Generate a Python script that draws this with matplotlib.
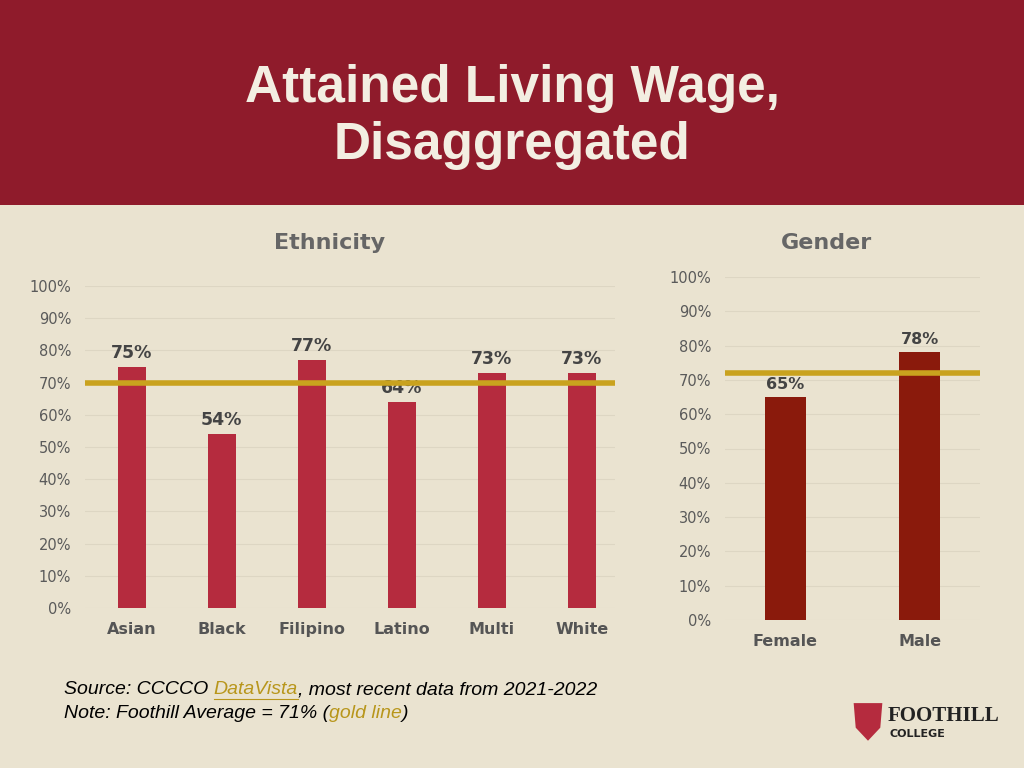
import matplotlib
matplotlib.use("Agg")
import matplotlib.pyplot as plt
from matplotlib.patches import Rectangle, Polygon
import numpy as np

eth_cats = ["Asian", "Black", "Filipino", "Latino", "Multi", "White"]
eth_vals = [75, 54, 77, 64, 73, 73]
gen_cats = ["Female", "Male"]
gen_vals = [65, 78]
avg_line_eth = 70
avg_line_gen = 72
yticks = [0, 10, 20, 30, 40, 50, 60, 70, 80, 90, 100]
ytick_labels = [f"{v}%" for v in yticks]

fig = plt.figure(figsize=(10.24, 7.68), dpi=100)
fig.patch.set_facecolor("#EAE3D0")
fig.patches.append(Rectangle((0, 1 - 205/768), 1, 205/768, transform=fig.transFigure,
                             facecolor="#8F1B2B", edgecolor="none", zorder=0))
fig.text(0.5, 0.885, "Attained Living Wage,", ha="center", va="center", color="#F3EEE2",
         fontsize=37, fontweight="bold", family="Liberation Sans")
fig.text(0.5, 0.81, "Disaggregated", ha="center", va="center", color="#F3EEE2",
         fontsize=37, fontweight="bold", family="Liberation Sans")

def panel(rect, cats, vals, color, avg, title, title_x, xlim, labsize):
    ax = fig.add_axes(rect)
    ax.set_facecolor("none")
    x = np.arange(len(cats))
    ax.bar(x, vals, width=0.31, color=color, zorder=2)
    for xi, v in zip(x, vals):
        ax.text(xi, v + 1.5, f"{v}%", ha="center", va="bottom", fontsize=labsize,
                fontweight="bold", color="#444444")
    ax.axhline(avg, color="#C9A21E", lw=4, zorder=3)
    ax.set_ylim(0, 100)
    ax.set_xlim(*xlim)
    ax.set_yticks(yticks)
    ax.set_yticklabels(ytick_labels, color="#5A5A5A", fontsize=10.5)
    ax.set_xticks(x)
    ax.set_xticklabels(cats, color="#555555", fontsize=11.5, fontweight="bold")
    ax.grid(axis="y", color="#DDD6C3", lw=0.8, zorder=0)
    for s in ax.spines.values():
        s.set_visible(False)
    ax.tick_params(length=0, pad=10)
    fig.text(title_x, 1 - 243/768, title, ha="center", va="center",
             fontsize=16, fontweight="bold", color="#666666")
    return ax

panel([85/1024, 1 - 608/768, 530/1024, 322/768], eth_cats, eth_vals, "#B52B3E",
      avg_line_eth, "Ethnicity", 330/1024, (-0.52, 5.37), 12.5)
panel([725/1024, 1 - 620/768, 255/1024, 343/768], gen_cats, gen_vals, "#8A1A0C",
      avg_line_gen, "Gender", 827/1024, (-0.45, 1.45), 11.5)

fs = 14
fam = "Liberation Sans"
y1, y2 = 1 - 690/768, 1 - 714/768
fig.canvas.draw()
r = fig.canvas.get_renderer()
def after(tt):
    bb = tt.get_window_extent(r)
    return bb.x1 / fig.bbox.width
t = fig.text(64/1024, y1, "Source: CCCCO ", fontsize=fs, style="italic", va="center", family=fam)
t2 = fig.text(after(t), y1, "DataVista", fontsize=fs, style="italic", va="center", color="#B8961B", family=fam)
bb = t2.get_window_extent(r)
fig.add_artist(plt.Line2D([bb.x0/1024, bb.x1/1024], [y1 - 0.012, y1 - 0.012], color="#B8961B", lw=0.8))
fig.text(after(t2), y1, ", most recent data from 2021-2022", fontsize=fs, style="italic", va="center", family=fam)
a = fig.text(64/1024, y2, "Note: Foothill Average = 71% (", fontsize=fs, style="italic", va="center", family=fam)
b = fig.text(after(a), y2, "gold line", fontsize=fs, style="italic", va="center", color="#B8961B", family=fam)
fig.text(after(b), y2, ")", fontsize=fs, style="italic", va="center", family=fam)

lx, ly = 868/1024, 1 - 720/768
fig.patches.append(Polygon([[lx-0.014, ly+0.022], [lx+0.014, ly+0.022], [lx+0.012, ly-0.01],
                            [lx, ly-0.027], [lx-0.012, ly-0.01]], closed=True,
                           transform=fig.transFigure, facecolor="#B52B3E", edgecolor="none"))
fig.text(888/1024, 1 - 716/768, "FOOTHILL", fontsize=15, fontweight="bold", color="#222222",
         va="center", family="Liberation Serif")
fig.text(889/1024, 1 - 734/768, "COLLEGE", fontsize=8, fontweight="bold", color="#222222", va="center")

fig.savefig("out.png", dpi=100, facecolor=fig.get_facecolor())
